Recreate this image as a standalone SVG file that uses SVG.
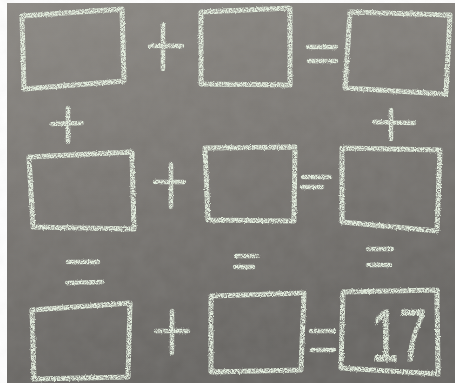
<svg xmlns="http://www.w3.org/2000/svg" width="455" height="383" viewBox="0 0 455 383">
<defs>
<linearGradient id="board" x1="0" y1="0" x2="0.25" y2="1">
<stop offset="0" stop-color="#8b8883"/>
<stop offset="0.5" stop-color="#7a7773"/>
<stop offset="1" stop-color="#686663"/>
</linearGradient>
<filter id="grain" filterUnits="userSpaceOnUse" x="0" y="0" width="455" height="383">
<feTurbulence type="fractalNoise" baseFrequency="0.06" numOctaves="3" seed="7"/>
<feColorMatrix type="matrix" values="0 0 0 0 0.5  0 0 0 0 0.5  0 0 0 0 0.5  0 0 0 0.35 0"/>
</filter>
<filter id="chalk" filterUnits="userSpaceOnUse" x="0" y="0" width="455" height="383">
<feTurbulence type="fractalNoise" baseFrequency="0.85" numOctaves="2" seed="4" result="n"/>
<feColorMatrix in="n" type="matrix" values="0 0 0 0 0  0 0 0 0 0  0 0 0 0 0  3.2 0 0 0 -0.85" result="a"/>
<feComposite in="SourceGraphic" in2="a" operator="in" result="c"/>
<feDisplacementMap in="c" in2="n" scale="2.5" xChannelSelector="R" yChannelSelector="G"/>
</filter>
<style>
.box{fill:none;stroke:#e2ecdd;stroke-width:5;stroke-linejoin:round}
.op{fill:none;stroke:#e2ecdd;stroke-width:4.5;stroke-linecap:round}
.num{fill:#e2ecdd;stroke:#e2ecdd;stroke-width:1;font-family:"Liberation Sans",Arial,sans-serif;font-size:74px}
</style>
</defs>
<rect width="455" height="383" fill="#ffffff"/>
<rect x="7" y="3" width="448" height="380" fill="url(#board)"/>
<rect x="7" y="3" width="448" height="380" filter="url(#grain)" opacity="0.35"/>
<g filter="url(#chalk)">
<g id="box1"><polygon class="box" points="22,16 122,9 124,81 24,89"/></g>
<g id="box2"><polygon class="box" points="201,12 290,8 290,85 201,84"/></g>
<g id="box3"><polygon class="box" points="350,12 450,15 446,94 345,88"/></g>
<g id="box4"><polygon class="box" points="29,157 132,152 134,229 33,227"/></g>
<g id="box5"><polygon class="box" points="205,148 295,147 294,221 208,220"/></g>
<g id="box6"><polygon class="box" points="342,148 440,150 437,231 342,222"/></g>
<g id="box7"><polygon class="box" points="32,310 130,303 128,377 34,379"/></g>
<g id="box8"><polygon class="box" points="211,296 304,293 301,370 211,372"/></g>
<g id="box9"><polygon class="box" points="343,292 437,290 438,374 341,368"/>
<text class="num" x="371" y="361" textLength="56" lengthAdjust="spacingAndGlyphs">17</text></g>
<g id="operators">
<path class="op" d="M163,25 L163,69 M150,46 L182,46"/>
<path class="op" d="M308,47 L336,47 M309,61 L336,61"/>
<path class="op" d="M68,108 L68,142 M52,124 L82,123"/>
<path class="op" d="M391,110 L391,139 M374,122 L414,123"/>
<path class="op" d="M171,164 L171,207 M155,182 L184,182"/>
<path class="op" d="M303,177 L330,177 M302,187 L322,187"/>
<path class="op" d="M68,262 L98,262 M67,283 L102,282"/>
<path class="op" d="M236,256 L257,256 M235,267 L253,267"/>
<path class="op" d="M368,249 L392,249 M368,265 L390,265"/>
<path class="op" d="M172,311 L172,353 M156,331 L188,331"/>
<path class="op" d="M311,331 L334,331 M312,350 L334,350"/>
</g>
</g>
</svg>
